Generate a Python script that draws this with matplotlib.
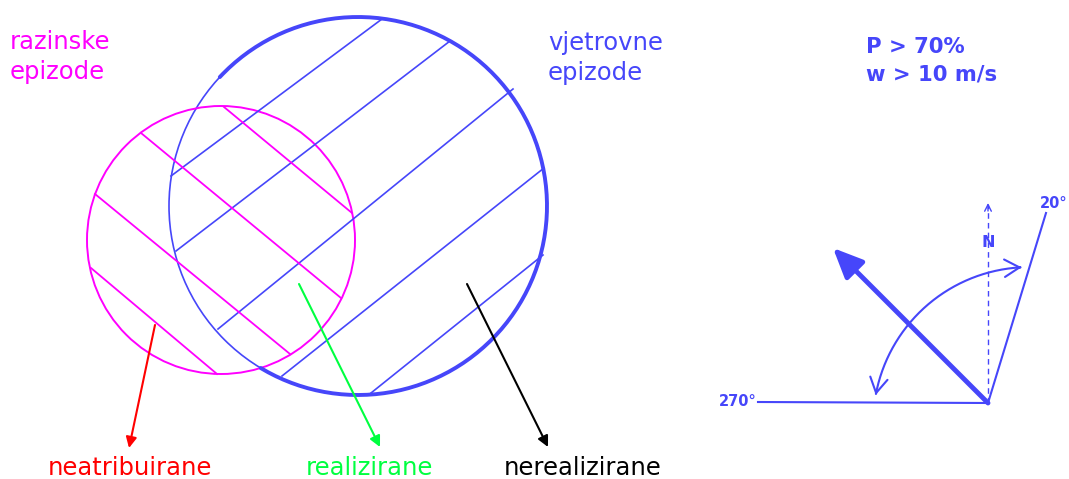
import numpy as np
import matplotlib
matplotlib.use("Agg")
import matplotlib.pyplot as plt
from matplotlib.patches import Circle, FancyArrowPatch
from matplotlib.path import Path

BLUE = "#4646fa"
MAGENTA = "#ff00ff"
GREEN = "#00ff40"
RED = "#ff0000"

# geometry in picture pixels (y grows downwards)
wind_circle = (358, 206, 189)          # cx, cy, r
level_circle = (221, 240, 134)
wind_thick_arc = (-121, 137)           # degrees, drawn thicker
wind_hatch = [((171, 176), (382, 19)), ((176, 251), (450, 41)),
              ((218, 329), (513, 89)), ((282, 376), (544, 168)),
              ((371, 393), (543, 255))]
level_hatch = [((224, 107), (352, 213)), ((141, 133), (341, 298)),
               ((95, 194), (290, 354)), ((91, 268), (217, 374))]

pointers = [((155, 325), (129, 448), RED),
            ((299, 284), (380, 447), GREEN),
            ((467, 284), (548, 447), "black")]
bottom_labels = ["neatribuirane", "realizirane", "nerealizirane"]
bottom_x = [130, 369, 583]
bottom_colors = [RED, GREEN, "black"]

level_label = ["razinske", "epizode"]
wind_label = ["vjetrovne", "epizode"]
criteria = ["P > 70%", "w > 10 m/s"]

# wind rose sketch
origin = (988, 403)
west_end = (758, 402)
sector_end = (1046, 213)
north_top = (988, 203)
wind_dir_tip = (833, 248)
sweep = (1029.5, 423.5, 156.4, 169.5, 92.9)   # cx, cy, r, start deg, end deg

fig = plt.figure(figsize=(10.69, 4.79), dpi=100)
ax = fig.add_axes([0, 0, 1, 1])
ax.set_xlim(0, 1069)
ax.set_ylim(479, 0)
ax.axis("off")


def arc_pts(cx, cy, r, a0, a1, n=200):
    t = np.radians(np.linspace(a0, a1, n))
    return cx + r * np.cos(t), cy - r * np.sin(t)


# circles
cx, cy, r = wind_circle
ax.add_patch(Circle((cx, cy), r, fill=False, ec=BLUE, lw=1.2))
xs, ys = arc_pts(cx, cy, r, *wind_thick_arc)
ax.plot(xs, ys, color=BLUE, lw=2.8, solid_capstyle="round")
cx, cy, r = level_circle
ax.add_patch(Circle((cx, cy), r, fill=False, ec=MAGENTA, lw=1.4))

for (x0, y0), (x1, y1) in wind_hatch:
    ax.plot([x0, x1], [y0, y1], color=BLUE, lw=1.2)
for (x0, y0), (x1, y1) in level_hatch:
    ax.plot([x0, x1], [y0, y1], color=MAGENTA, lw=1.3)

for start, end, col in pointers:
    ax.annotate("", xy=end, xytext=start,
                arrowprops=dict(arrowstyle="-|>", color=col, lw=1.5,
                                mutation_scale=16, shrinkA=0, shrinkB=0))

for lab, x, col in zip(bottom_labels, bottom_x, bottom_colors):
    ax.text(x, 475, lab, color=col, fontsize=17.5, ha="center", va="baseline")

for i, lab in enumerate(level_label):
    ax.text(10, 49 + 30 * i, lab, color=MAGENTA, fontsize=17.5, va="baseline")
for i, lab in enumerate(wind_label):
    ax.text(548, 50 + 30 * i, lab, color=BLUE, fontsize=17.5, va="baseline")
for i, lab in enumerate(criteria):
    ax.text(866, 53 + 27 * i, lab, color=BLUE, fontsize=15.2,
            fontweight="bold", va="baseline")

# wind rose
ax.plot([west_end[0], origin[0], sector_end[0]],
        [west_end[1], origin[1], sector_end[1]], color=BLUE, lw=1.5)
ax.plot([origin[0], north_top[0]], [origin[1], north_top[1] + 2],
        color=BLUE, lw=1.0, ls=(0, (4, 3)))
ax.annotate("", xy=north_top, xytext=(north_top[0], north_top[1] + 8),
            arrowprops=dict(arrowstyle="->", color=BLUE, lw=1.0,
                            mutation_scale=12, shrinkA=0, shrinkB=0))
ax.annotate("", xy=wind_dir_tip, xytext=origin,
            arrowprops=dict(arrowstyle="-|>,head_length=0.9,head_width=0.4",
                            color=BLUE, lw=3.5, mutation_scale=20,
                            shrinkA=0, shrinkB=0))
sx, sy = arc_pts(*sweep)
ax.add_patch(FancyArrowPatch(path=Path(np.column_stack([sx, sy])),
                             arrowstyle="<->,head_length=0.6,head_width=0.35",
                             color=BLUE, lw=1.5, mutation_scale=18))

ax.text(757, 401, "270°", color=BLUE, fontsize=10.5, fontweight="bold",
        ha="right", va="center")
ax.text(1040, 204, "20°", color=BLUE, fontsize=10.5, fontweight="bold",
        ha="left", va="center")
ax.text(988, 242, "N", color=BLUE, fontsize=11.5, fontweight="bold",
        ha="center", va="center")

fig.savefig("out.png", dpi=100, facecolor="white")
